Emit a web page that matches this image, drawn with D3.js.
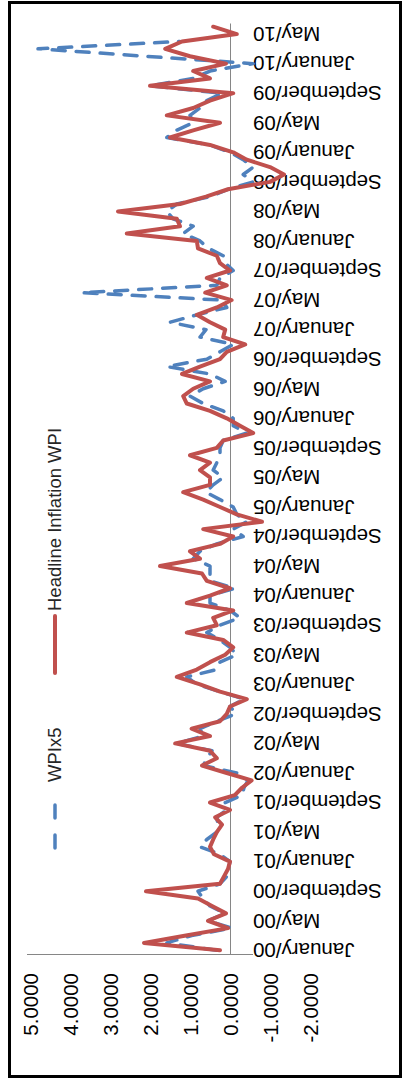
<!DOCTYPE html>
<html><head><meta charset="utf-8">
<script src="https://cdn.jsdelivr.net/npm/d3@7"></script>
<style>html,body{margin:0;padding:0;background:#fff;}svg{display:block;}</style>
</head><body>
<svg id="c" width="406" height="1082"></svg>
<script>
// ---- data ----
const monthNames = ["January","February","March","April","May","June","July","August","September","October","November","December"];
const yearCodes = ["00","01","02","03","04","05","06","07","08","09","10"];
const categories = [];
yearCodes.forEach(y => monthNames.forEach((m, i) => { if (!(y === "10" && i > 5)) categories.push(m + "/" + y); }));
const tickLabels = ["January/00","May/00","September/00","January/01","May/01","September/01","January/02","May/02","September/02","January/03","May/03","September/03","January/04","May/04","September/04","January/05","May/05","September/05","January/06","May/06","September/06","January/07","May/07","September/07","January/08","May/08","September/08","January/09","May/09","September/09","January/10","May/10"];
const valueTicks = [-2,-1,0,1,2,3,4,5];
const headline = [0.25,2.15,1.1,0.05,0.55,0.1,0.45,0.8,2.1,0.25,0.15,0.05,0.0,0.4,0.5,0.42,0.33,0.2,0.37,0.0,0.5,-0.12,-0.3,-0.54,0.08,0.7,0.33,0.5,1.37,0.5,0.96,0.25,0.08,0.0,-0.42,0.25,0.75,1.33,0.83,0.5,0.12,-0.08,0.17,1.08,0.33,0.42,-0.08,1.08,0.5,0.0,0.58,0.7,1.75,0.75,1.0,0.25,-0.08,0.67,-0.8,-0.17,0.25,0.67,1.17,0.5,0.5,0.75,0.5,1.0,0.33,0.17,-0.58,-0.25,0.08,0.5,1.08,1.17,0.92,0.5,1.2,0.75,0.25,0.08,-0.38,0.17,0.12,0.5,0.83,0.33,-0.04,0.62,0.08,0.58,0.0,0.25,0.33,0.8,0.83,2.58,1.25,1.33,2.8,1.25,0.6,0.05,-1.0,-1.35,-1.0,-0.42,-0.08,0.5,1.5,0.9,0.25,1.58,0.92,0.5,-0.08,2.0,0.5,0.92,0.1,1.0,1.62,1.2,-0.17,0.42];
const wpix5 = [0.33,1.58,0.96,-0.04,0.55,0.12,0.5,0.67,0.8,0.25,0.08,0.04,0.0,0.25,0.75,0.58,0.33,0.3,0.33,0.08,0.12,-0.3,-0.35,-0.45,-0.17,0.67,0.58,0.45,1.33,0.67,0.75,0.33,-0.15,0.0,-0.35,0.25,0.83,1.08,0.33,0.25,-0.17,0.0,0.25,0.58,0.25,-0.25,0.0,0.5,0.5,-0.12,0.5,0.5,0.5,0.92,0.75,0.33,-0.33,-0.08,-0.42,-0.17,-0.08,0.25,0.6,0.42,0.17,0.42,0.33,0.25,0.25,0.17,-0.42,-0.08,-0.08,0.17,0.67,1.0,0.67,0.12,0.5,1.58,0.58,0.25,-0.08,0.75,0.6,1.5,0.83,0.08,0.2,3.7,0.33,0.25,-0.08,0.12,0.17,0.54,0.75,1.17,0.92,1.42,1.58,1.33,0.5,0.04,-0.58,-0.33,-0.58,-0.33,0.0,0.5,1.58,1.33,0.92,1.0,0.75,0.58,0.2,2.0,0.92,0.5,-0.58,2.1,4.8,1.25,null,null];
const seriesNames = ["WPIx5","Headline Inflation WPI"];
const colors = {"WPIx5":"#4F81BD","Headline Inflation WPI":"#C0504D"};

// ---- chart ----
const svg = d3.select("#c");
const FONT = "'Liberation Sans', Arial, sans-serif";
svg.append("rect").attr("x",9.5).attr("y",2.5).attr("width",391).attr("height",1074)
  .attr("fill","#fff").attr("stroke","#000").attr("stroke-width",3);

const vScale = d3.scaleLinear().domain([-2,5]).range([310,30]);
const cScale = d3.scaleBand().domain(categories).range([954,23]).padding(0);
const cy = c => cScale(c) + cScale.bandwidth()/2;
const labelGap = 23;

// value axis (horizontal, bottom)
const vAxis = svg.append("g").attr("transform","translate(0,954)")
  .call(d3.axisBottom(vScale).tickValues(valueTicks).tickSize(0).tickFormat(d => d.toFixed(4)));
vAxis.select(".domain").attr("stroke","#868686").attr("stroke-width",1)
  .attr("d", `M${vScale(5)-3},0.5H${vScale(0)+labelGap}`);
vAxis.selectAll("text").attr("font-family",FONT).attr("font-size",20.5).attr("fill","#000")
  .attr("transform","rotate(-90)").attr("text-anchor","end").attr("dy","0.35em").attr("x",-19).attr("y",0);

// category axis (vertical, at value 0)
const cAxis = svg.append("g").attr("transform",`translate(${vScale(0)},0)`)
  .call(d3.axisRight(cScale).tickValues(tickLabels).tickSize(0));
cAxis.select(".domain").attr("stroke","#868686").attr("stroke-width",1);
cAxis.selectAll("text").attr("font-family",FONT).attr("font-size",20.5).attr("fill","#000")
  .attr("transform","rotate(180)").attr("text-anchor","end").attr("x",-labelGap).attr("dy","0.35em");

const line = d3.line().defined(d => d.v != null).x(d => vScale(d.v)).y(d => cy(d.c));
const mk = arr => categories.map((c,i) => ({c, v: i < arr.length ? arr[i] : null}));

svg.append("path").datum(mk(wpix5)).attr("d",line).attr("fill","none")
  .attr("stroke",colors["WPIx5"]).attr("stroke-width",3.5).attr("stroke-dasharray","13,11")
  .attr("stroke-linecap","round").attr("stroke-linejoin","round");
svg.append("path").datum(mk(headline)).attr("d",line).attr("fill","none")
  .attr("stroke",colors["Headline Inflation WPI"]).attr("stroke-width",4)
  .attr("stroke-linejoin","round").attr("stroke-linecap","round");

// legend (rotated)
const legend = [
  {name:"WPIx5", s0:848, s1:802, ty:782},
  {name:"Headline Inflation WPI", s0:673, s1:616, ty:611}
];
legend.forEach(l => {
  const g = svg.append("g");
  g.append("line").attr("x1",55).attr("x2",55).attr("y1",l.s0).attr("y2",l.s1)
    .attr("stroke",colors[l.name]).attr("stroke-width",l.name==="WPIx5"?3.5:4)
    .attr("stroke-linecap","round")
    .attr("stroke-dasharray", l.name==="WPIx5" ? "13,17" : null);
  g.append("text").attr("transform",`translate(55,${l.ty}) rotate(-90)`)
    .attr("dy","0.35em").attr("font-family",FONT).attr("font-size",18.5).attr("fill","#262626")
    .text(l.name);
});
</script>
</body></html>
